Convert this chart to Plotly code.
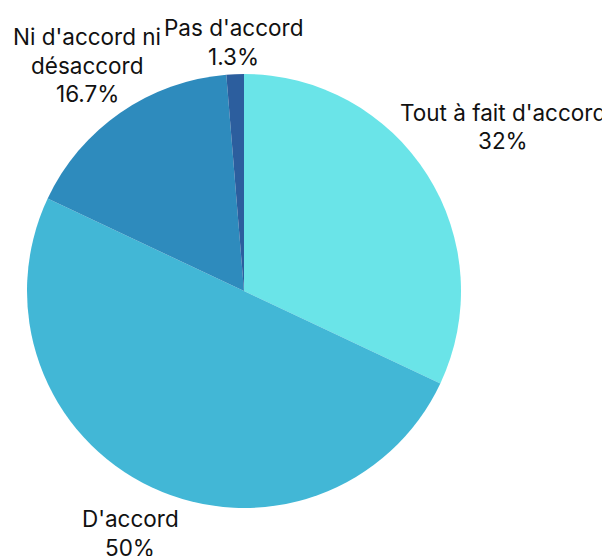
import math
import plotly.graph_objects as go

labels = ["Tout à fait d'accord", "D'accord", "Ni d'accord ni<br>désaccord", "Pas d'accord"]
values = [32, 50, 16.7, 1.3]
colors = ["#6AE4E8", "#42B7D6", "#2E8BBD", "#2C5E9E"]

# layout / style constants (page body adds an 8px offset)
W, H = 610, 556
ML, MT = 19, 66
SIZE = 434
MR = W - ML - SIZE
MB = H - MT - SIZE
label_radius = [1.413, 1.232, 1.266, 1.149]  # label block centre distance / pie radius
LINE_PX = 28.5
FONT = dict(family="Inter", size=22.5, color="#111111")

fig = go.Figure(go.Pie(
    labels=labels,
    values=values,
    sort=False,
    direction="clockwise",
    rotation=0,
    marker=dict(colors=colors, line=dict(width=0)),
    textinfo="none",
    hoverinfo="label+percent",
    showlegend=False,
))

total = sum(values)
cum = 0.0
annotations = []
for lab, v, k in zip(labels, values, label_radius):
    mid = (cum + v / 2) / total * 2 * math.pi
    cum += v
    x = 0.5 + 0.5 * k * math.sin(mid)
    y = 0.5 + 0.5 * k * math.cos(mid)
    lines = lab.split("<br>") + [f"{v:g}%"]
    n = len(lines)
    for i, line in enumerate(lines):
        dy = ((n - 1) / 2 - i) * LINE_PX / SIZE
        annotations.append(dict(
            x=x, y=y + dy, xref="paper", yref="paper",
            text=line, showarrow=False,
            xanchor="center", yanchor="middle", align="center",
            font=FONT,
        ))

fig.update_layout(
    width=W, height=H,
    margin=dict(l=ML, r=MR, t=MT, b=MB),
    paper_bgcolor="white",
    plot_bgcolor="white",
    font=dict(family="Inter"),
    annotations=annotations,
)
fig.write_html("out.html")
